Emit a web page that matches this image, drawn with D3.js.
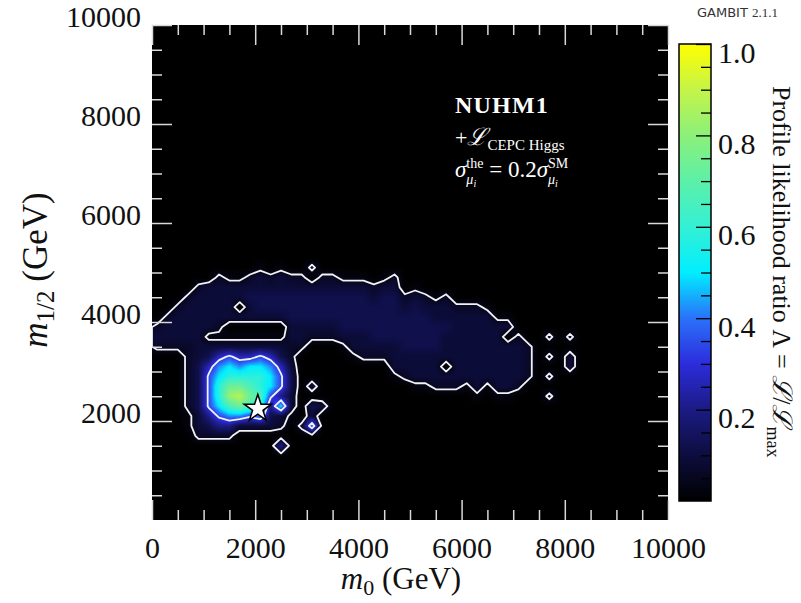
<!DOCTYPE html>
<html>
<head>
<meta charset="utf-8">
<script src="https://cdn.jsdelivr.net/npm/d3@7"></script>
<style>
  body { margin: 0; background: #fff; }
  text { font-family: "Liberation Serif", "DejaVu Serif", serif; white-space: pre; }
</style>
</head>
<body>
<svg id="chart" width="801" height="603"></svg>
<script>
"use strict";

// ---- data ----
const m0Ticks = [0, 2000, 4000, 6000, 8000, 10000];
const m12Ticks = [2000, 4000, 6000, 8000, 10000];
const cbarTicks = [0.2, 0.4, 0.6, 0.8, 1.0];
const contourLevels = [0.0455, 0.317]; // 2 sigma, 1 sigma
const bestFit = [2050, 2250];

// profile likelihood on a 200 GeV grid, one string per m1/2 cell row,
// top row is the cell 5400-5600 GeV; columns start at m0 = 0
const gridStep = 200;
const gridTopRow = 27;
const levelCodes = "0123456789abcde";
const levelValues = [0, 0.025, 0.065, 0.09, 0.12, 0.2, 0.26, 0.34, 0.42, 0.5, 0.58, 0.66, 0.74, 0.82, 0.88];
const likeRows = [
  "0000000000 0000000000 0000000000 0000000000 00",
  "0000000000 0000000000 0000000000 0000000000 00",
  "0000000000 1010020000 0000000000 0000000000 00",
  "0000002112 3232202211 1012000000 0000000000 00",
  "0000233333 3333333333 3233010000 0000000000 00",
  "0002333334 4444444444 4344232120 0000000000 00",
  "0023333303 4444444444 4444343332 2210000000 00",
  "0233333333 3334444444 4444444333 3331100000 00",
  "2333332000 0003333344 4444444443 3333300000 00",
  "3333311111 1113322233 3444444433 3333020020 20",
  "2222333333 3332200013 3333444433 3333332000 00",
  "0002346766 7642000001 2223333333 3333332020 30",
  "0002468989 9863000000 0003333303 3333332000 30",
  "0002479aaa a974000000 0001233333 3333332020 00",
  "000247accb a974030000 0000011222 1313320000 00",
  "000247adec b753000000 0000000000 0101100020 00",
  "0002479bcb a593043000 0000000000 0000000000 00",
  "0001357887 8431030000 0000000000 0000000000 00",
  "0001345533 3320280000 0000000000 0000000000 00",
  "0000222200 0000000000 0000000000 0000000000 00",
  "0000000000 0050000000 0000000000 0000000000 00",
  "0000000000 0000000000 0000000000 0000000000 00",
  "0000000000 0000000000 0000000000 0000000000 00"
];

const cmapStops = [0, 0.1, 0.2, 0.3, 0.4, 0.5, 0.6, 0.7, 0.8, 0.9, 1.0];
const cmapColors = ["#000000", "#0d0d3e", "#1b1b84", "#2c2cdc", "#2a72fa", "#00eeff",
                    "#34f0d4", "#5cf0a8", "#8cf07a", "#c4f448", "#ffff00"];

// ---- layout ----
const plot = { left: 152, right: 668, top: 25, bottom: 520 };
const cbar = { left: 679, right: 711, top: 44, bottom: 501 };

const svg = d3.select("#chart");
svg.append("rect").attr("width", 801).attr("height", 603).attr("fill", "#fff");

const x = d3.scaleLinear().domain([0, 10000]).range([plot.left, plot.right]);
const y = d3.scaleLinear().domain([0, 10000]).range([plot.bottom, plot.top]);
const color = d3.scaleLinear().domain(cmapStops).range(cmapColors).clamp(true);

// ---- grid ----
const nx = 50, ny = 50;
const values = new Array(nx * ny).fill(0);
likeRows.forEach((row, r) => {
  const gr = ny - 1 - (gridTopRow - r);
  row.replace(/ /g, "").split("").forEach((ch, c) => {
    values[gr * nx + c] = levelValues[levelCodes.indexOf(ch)];
  });
});

function sample(gx, gy) {
  const cl = (v, n) => Math.max(0, Math.min(n - 1, v));
  const x0 = Math.floor(gx), y0 = Math.floor(gy);
  const fx = gx - x0, fy = gy - y0;
  const v = (i, j) => values[cl(j, ny) * nx + cl(i, nx)];
  return (v(x0, y0) * (1 - fx) + v(x0 + 1, y0) * fx) * (1 - fy) +
         (v(x0, y0 + 1) * (1 - fx) + v(x0 + 1, y0 + 1) * fx) * fy;
}

// ---- heat map ----
const pw = plot.right - plot.left, ph = plot.bottom - plot.top;
const canvas = document.createElement("canvas");
canvas.width = pw;
canvas.height = ph;
const ctx = canvas.getContext("2d");
const img = ctx.createImageData(pw, ph);
const lut = d3.range(256).map((i) => d3.rgb(color(i / 255)));
for (let py = 0; py < ph; py++) {
  const m12 = y.invert(plot.top + py + 0.5);
  const gy = ny - m12 / gridStep - 0.5;
  for (let px = 0; px < pw; px++) {
    const m0 = x.invert(plot.left + px + 0.5);
    const v = sample(m0 / gridStep - 0.5, gy);
    const c = lut[Math.max(0, Math.min(255, Math.round(v * 255)))];
    const k = (py * pw + px) * 4;
    img.data[k] = c.r; img.data[k + 1] = c.g; img.data[k + 2] = c.b; img.data[k + 3] = 255;
  }
}
ctx.putImageData(img, 0, 0);
svg.append("image")
  .attr("x", plot.left).attr("y", plot.top)
  .attr("width", pw).attr("height", ph)
  .attr("preserveAspectRatio", "none")
  .attr("href", canvas.toDataURL());

svg.append("clipPath").attr("id", "plot-clip")
  .append("rect")
  .attr("x", plot.left).attr("y", plot.top).attr("width", pw).attr("height", ph);

// ---- contours ----
const contours = d3.contours().size([nx, ny]).smooth(true).thresholds(contourLevels)(values);
const proj = d3.geoTransform({
  point(gx, gy) { this.stream.point(x(gx * gridStep), y((ny - gy) * gridStep)); }
});
svg.append("g").attr("clip-path", "url(#plot-clip)")
  .selectAll("path")
  .data(contours)
  .join("path")
  .attr("d", d3.geoPath(proj))
  .attr("fill", "none")
  .attr("stroke", "#f2f2f2")
  .attr("stroke-width", 1.8)
  .attr("stroke-linejoin", "round");

// best fit star
svg.append("path")
  .attr("d", d3.symbol().type(d3.symbolStar).size(230)())
  .attr("transform", `translate(${x(bestFit[0])},${y(bestFit[1])})`)
  .attr("fill", "#fff").attr("stroke", "#000").attr("stroke-width", 1.5);

// ---- axes ----
const minorOf = (step, major) => d3.range(step, 10000, step).filter((v) => v % major !== 0);
const tickColor = "#d9d9d9";

function drawAxis(axis, tx, ty, labels) {
  const g = svg.append("g").attr("transform", `translate(${tx},${ty})`).call(axis);
  g.select(".domain").remove();
  g.selectAll("line").attr("stroke", tickColor).attr("stroke-width", 1.5);
  if (!labels) g.selectAll("text").remove();
  else g.selectAll("text").attr("fill", "#111")
    .style("font-family", '"Liberation Serif", serif').style("font-size", "30px");
  return g;
}

const fmt = d3.format("d");
drawAxis(d3.axisBottom(x).tickValues(m0Ticks).tickSize(-20).tickPadding(17).tickFormat(fmt), 0, plot.bottom, true);
drawAxis(d3.axisBottom(x).tickValues(minorOf(500, 2000)).tickSize(-10), 0, plot.bottom, false);
drawAxis(d3.axisTop(x).tickValues(m0Ticks).tickSize(-20), 0, plot.top, false);
drawAxis(d3.axisTop(x).tickValues(minorOf(500, 2000)).tickSize(-10), 0, plot.top, false);
drawAxis(d3.axisLeft(y).tickValues(m12Ticks).tickSize(-20).tickPadding(11).tickFormat(fmt), plot.left, 0, true)
  .selectAll("text").attr("dy", "1px");
drawAxis(d3.axisLeft(y).tickValues(minorOf(500, 2000)).tickSize(-10), plot.left, 0, false);
drawAxis(d3.axisRight(y).tickValues(m12Ticks).tickSize(-20), plot.right, 0, false);
drawAxis(d3.axisRight(y).tickValues(minorOf(500, 2000)).tickSize(-10), plot.right, 0, false);

// ---- rich text helper ----
function richText(parent, parts) {
  const g = parent.append("g");
  let cursor = 0, anchor = 0, prevEnd = 0;
  parts.forEach((p) => {
    const start = p.pos === "stack" ? anchor : p.pos === "follow" ? prevEnd : cursor;
    if (!p.pos) anchor = start;
    const t = g.append("text")
      .attr("x", start).attr("y", p.dy || 0)
      .style("font-size", `${p.size}px`)
      .style("font-style", p.italic ? "italic" : "normal")
      .style("font-weight", p.bold ? "bold" : "normal")
      .style("letter-spacing", p.spacing ? `${p.spacing}px` : null)
      .style("fill", p.fill || "#111")
      .text(p.t);
    const w = t.node().getComputedTextLength();
    prevEnd = start + w;
    cursor = Math.max(cursor, prevEnd);
  });
  return { g, width: cursor };
}

// axis titles
const xt = richText(svg, [
  { t: "m", size: 31, italic: true },
  { t: "0", size: 22, dy: 6 },
  { t: " (GeV)", size: 31 }
]);
xt.g.attr("transform", `translate(${401 - xt.width / 2},589)`);

const yt = richText(svg, [
  { t: "m", size: 35, italic: true },
  { t: "1/2", size: 25, dy: 7 },
  { t: " (GeV)", size: 35 }
]);
yt.g.attr("transform", `translate(47,${270 + yt.width / 2}) rotate(-90)`);

// ---- colour bar ----
const cb = d3.scaleLinear().domain([0, 1]).range([cbar.bottom, cbar.top]);
const grad = svg.append("defs").append("linearGradient")
  .attr("id", "cbar-grad").attr("x1", 0).attr("x2", 0).attr("y1", 1).attr("y2", 0);
grad.selectAll("stop").data(cmapStops).join("stop")
  .attr("offset", (d) => d).attr("stop-color", (d) => color(d));
svg.append("rect")
  .attr("x", cbar.left).attr("y", cbar.top)
  .attr("width", cbar.right - cbar.left).attr("height", cbar.bottom - cbar.top)
  .attr("fill", "url(#cbar-grad)").attr("stroke", "#000").attr("stroke-width", 1.5);

const cbMajor = svg.append("g").attr("transform", `translate(${cbar.right},0)`)
  .call(d3.axisRight(cb).tickValues(cbarTicks).tickSize(-15).tickPadding(7).tickFormat(d3.format(".1f")));
cbMajor.select(".domain").remove();
cbMajor.selectAll("line").attr("stroke", "#000").attr("stroke-width", 1.3);
cbMajor.selectAll("text").attr("dy", "18px").attr("fill", "#111")
  .style("font-family", '"Liberation Serif", serif').style("font-size", "30px");
const cbMinor = svg.append("g").attr("transform", `translate(${cbar.right},0)`)
  .call(d3.axisRight(cb).tickValues(d3.range(1, 20).map((i) => i / 20).filter((v) => Math.round(v * 20) % 4 !== 0)).tickSize(-10).tickFormat(""));
cbMinor.select(".domain").remove();
cbMinor.selectAll("line").attr("stroke", "#000").attr("stroke-width", 1.3);

const ct = richText(svg, [
  { t: "Profile likelihood ratio ", size: 26 },
  { t: "Λ = ", size: 26 },
  { t: "ℒ", size: 27, italic: true },
  { t: "/", size: 26 },
  { t: "ℒ", size: 27, italic: true },
  { t: "max", size: 18, dy: 6 }
]);
ct.g.attr("transform", "translate(773,86) rotate(90)");

// ---- annotations ----
richText(svg, [{ t: "NUHM1", size: 24, bold: true, spacing: 1.2, fill: "#fff" }])
  .g.attr("transform", "translate(455,113)");
richText(svg, [
  { t: "+", size: 22, fill: "#fff" },
  { t: "ℒ", size: 24, italic: true, fill: "#fff" },
  { t: "CEPC Higgs", size: 15, dy: 5, fill: "#fff" }
]).g.attr("transform", "translate(455,145)");
richText(svg, [
  { t: "σ", size: 23, italic: true, fill: "#fff" },
  { t: "the", size: 14, dy: -9, fill: "#fff" },
  { t: "μ", size: 14, dy: 7, italic: true, pos: "stack", fill: "#fff" },
  { t: "i", size: 10, dy: 10, italic: true, pos: "follow", fill: "#fff" },
  { t: " = 0.2", size: 23, fill: "#fff" },
  { t: "σ", size: 23, italic: true, fill: "#fff" },
  { t: "SM", size: 14, dy: -9, fill: "#fff" },
  { t: "μ", size: 14, dy: 7, italic: true, pos: "stack", fill: "#fff" },
  { t: "i", size: 10, dy: 10, italic: true, pos: "follow", fill: "#fff" }
]).g.attr("transform", "translate(455,177)");

// ---- version tag ----
const tag = svg.append("text").attr("x", 778).attr("y", 17).attr("text-anchor", "end")
  .style("fill", "#333").style("font-size", "13px");
tag.append("tspan").style("font-family", '"DejaVu Sans", sans-serif').text("GAMBIT ");
tag.append("tspan").text("2.1.1");
</script>
</body>
</html>
